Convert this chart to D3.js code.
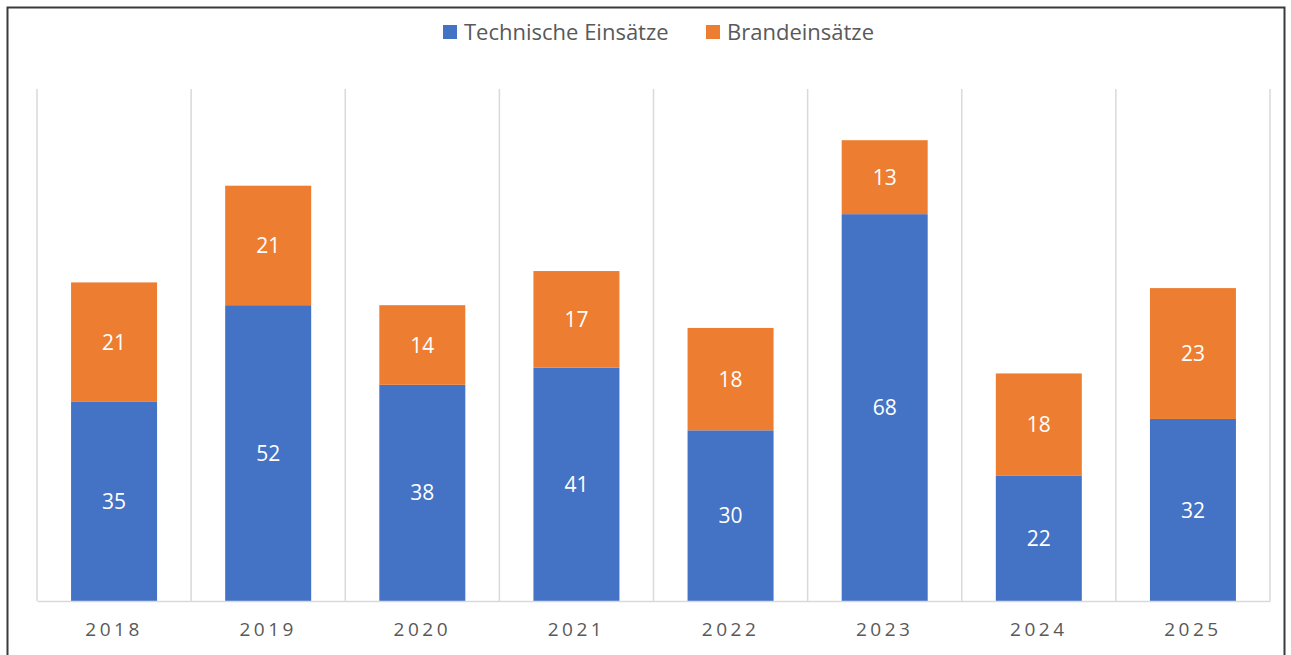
<!DOCTYPE html>
<html>
<head>
<meta charset="utf-8">
<script src="https://cdn.jsdelivr.net/npm/d3@7"></script>
<style>
  body { margin: 0; background: #fff; }
  svg { display: block; font-family: "Open Sans", "Noto Sans", sans-serif; }
</style>
</head>
<body>
<svg id="chart" width="1291" height="655"></svg>
<script>
// Data
const years = ['2018', '2019', '2020', '2021', '2022', '2023', '2024', '2025'];
const technische = [35, 52, 38, 41, 30, 68, 22, 32];
const brand = [21, 21, 14, 17, 18, 13, 18, 23];
const seriesNames = ['Technische Einsätze', 'Brandeinsätze'];
const seriesColors = ['#4472C4', '#ED7D31'];

const svg = d3.select('#chart');
const margin = { top: 89, right: 21, bottom: 54, left: 37 };
const width = 1291 - margin.left - margin.right;
const height = 655 - margin.top - margin.bottom;

// Outer frame
svg.append('rect')
  .attr('x', 7.5).attr('y', 7.5)
  .attr('width', 1277).attr('height', 700)
  .attr('fill', 'none')
  .attr('stroke', '#3a3a3a')
  .attr('stroke-width', 2);

const g = svg.append('g').attr('transform', `translate(${margin.left},${margin.top})`);

const x = d3.scaleBand().domain(years).range([0, width]).padding(0);
const y = d3.scaleLinear().domain([0, 90]).range([height, 0]);
const barW = x.bandwidth() * 0.558;

// Vertical category gridlines
const edges = years.map((d) => x(d)).concat([width]);
g.selectAll('line.grid')
  .data(edges)
  .join('line')
  .attr('class', 'grid')
  .attr('x1', (d) => d).attr('x2', (d) => d)
  .attr('y1', 0).attr('y2', height)
  .attr('stroke', '#d9d9d9')
  .attr('stroke-width', 1.5);

// Stack the two series
const rows = years.map((yr, i) => ({ year: yr, t: technische[i], b: brand[i] }));
const stack = d3.stack().keys(['t', 'b'])(rows);

const layer = g.selectAll('g.layer')
  .data(stack)
  .join('g')
  .attr('class', 'layer')
  .attr('fill', (d, i) => seriesColors[i]);

layer.selectAll('rect')
  .data((d) => d)
  .join('rect')
  .attr('x', (d) => x(d.data.year) + (x.bandwidth() - barW) / 2)
  .attr('width', barW)
  .attr('y', (d) => y(d[1]))
  .attr('height', (d) => y(d[0]) - y(d[1]));

layer.selectAll('text')
  .data((d) => d)
  .join('text')
  .attr('x', (d) => x(d.data.year) + x.bandwidth() / 2)
  .attr('y', (d) => (y(d[0]) + y(d[1])) / 2)
  .attr('dy', '0.36em')
  .attr('text-anchor', 'middle')
  .attr('fill', '#fff')
  .attr('font-size', 21)
  .text((d) => d[1] - d[0]);

// Baseline and x axis labels
const xAxis = g.append('g')
  .attr('transform', `translate(0,${height})`)
  .call(d3.axisBottom(x).tickSize(0).tickPadding(22));
xAxis.select('.domain').attr('stroke', '#d9d9d9').attr('stroke-width', 1.5);
xAxis.selectAll('text')
  .attr('font-family', '"Open Sans", "Noto Sans", sans-serif')
  .attr('font-size', 19)
  .attr('fill', '#595959')
  .style('letter-spacing', '3.5px');

// Legend
const legend = svg.append('g').attr('class', 'legend');
const legendX = [443, 706];
seriesNames.forEach((name, i) => {
  const item = legend.append('g').attr('transform', `translate(${legendX[i]},25)`);
  item.append('rect').attr('width', 14).attr('height', 14).attr('fill', seriesColors[i]);
  item.append('text')
    .attr('x', 21).attr('y', 7).attr('dy', '0.35em')
    .attr('font-size', 22)
    .attr('fill', '#595959')
    .text(name);
});
</script>
</body>
</html>
